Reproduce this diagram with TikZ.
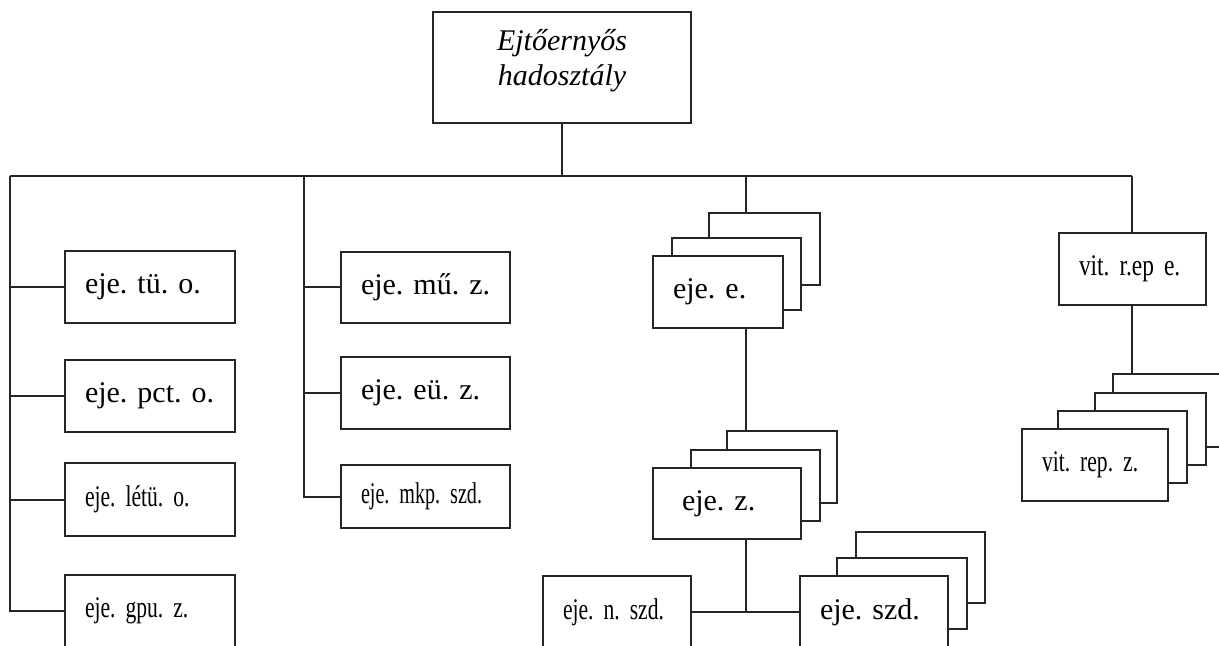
\documentclass[tikz,border=0pt]{standalone}
\usepackage{fontspec}
\setmainfont{Liberation Serif}
\newfontfamily\narrowserif[FakeStretch=0.72]{Liberation Serif}
\newfontfamily\narrowerserif[FakeStretch=0.67]{Liberation Serif}
\newfontfamily\slightnarrowserif[FakeStretch=0.78]{Liberation Serif}

\tikzset{
  unitbox/.style={draw=black!85, line width=1pt, fill=white, rectangle,
    inner xsep=10pt, inner ysep=0pt, outer sep=0pt, align=left,
    font=\fontsize{15}{18}\selectfont},
  link/.style={draw=black!85, line width=1pt},
}

% #1 name, #2 #3 top-left corner, #4 #5 bottom-right corner (grid units), #6 label
\newcommand\orgbox[6]{%
  \pgfmathsetmacro\obw{(#4-#2)*0.5-20}%
  \pgfmathsetmacro\obh{(#5-#3)*0.5}%
  \node[unitbox, anchor=north west, text width=\obw pt, minimum height=\obh pt]
    (#1) at (#2,#3) {\mbox{#6}};}

\begin{document}
\frenchspacing
\begin{tikzpicture}[x=0.5pt, y=-0.5pt]
  \useasboundingbox (0,0) rectangle (1219,646);
  \clip (0,0) rectangle (1219,646);

  % division headquarters
  \node[unitbox, anchor=north west, minimum width=129pt, minimum height=55.5pt,
        align=center, inner xsep=0pt, text width=129pt,
        font=\fontsize{15}{17.5}\selectfont\itshape]
    (hq) at (433,12) {Ejtőernyős\\hadosztály\\[-7.2pt]\mbox{}};

  \coordinate (busL) at (10,176);
  \coordinate (busR) at (1132,176);
  \coordinate (busB) at (304,176);
  \coordinate (busC) at (746,176);

  \draw[link] (hq.south) -- (hq.south |- busL);
  \draw[link] (busL) -- (busR);

  % first column: battalions
  \orgbox{tuo}{65}{251}{235}{323}{eje. tü. o.}
  \orgbox{pcto}{65}{360}{235}{432}{eje. pct. o.}
  \orgbox{letuo}{65}{463}{235}{536}{\narrowserif eje. létü. o.}
  \orgbox{gpuz}{65}{575}{235}{647}{\narrowserif eje. gpu. z.}

  \draw[link] (busL) |- (gpuz.west);
  \foreach \b in {tuo,pcto,letuo}
    \draw[link] (\b.west) -- (\b.west -| busL);

  % second column
  \orgbox{muz}{341}{252}{510}{323}{eje. mű. z.}
  \orgbox{euz}{341}{357}{510}{429}{eje. eü. z.}
  \orgbox{mkp}{341}{465}{510}{528}{\narrowerserif eje. mkp. szd.}

  \draw[link] (busB) |- (mkp.west);
  \foreach \b in {muz,euz}
    \draw[link] (\b.west) -- (\b.west -| busB);

  % third column: regiments, battalions, companies
  \orgbox{ee3}{709}{213}{820}{285}{}
  \orgbox{ee2}{672}{238}{801}{310}{}
  \orgbox{ee}{653}{256}{783}{328}{eje. e.}
  \draw[link] (busC) -- (ee3.north -| busC);

  \orgbox{ez3}{727}{431}{837}{503}{}
  \orgbox{ez2}{691}{450}{820}{521}{}
  \node[unitbox, anchor=north west, text width=45pt, minimum height=35.5pt,
        inner xsep=14.5pt] (ez) at (653,468) {\mbox{eje. z.}};
  \draw[link] (ee.south -| busC) -- (ez3.north -| busC);

  \orgbox{nszd}{543}{576}{691}{648}{\narrowserif eje. n. szd.}
  \orgbox{szd3}{856}{532}{985}{603}{}
  \orgbox{szd2}{837}{558}{967}{629}{}
  \orgbox{szd}{800}{576}{948}{648}{eje. szd.}
  \coordinate (fork) at (746,612);
  \draw[link] (ez.south -| busC) -- (fork);
  \draw[link] (nszd.east) -- (szd.west);

  % fourth column: maintenance
  \orgbox{vre}{1059}{233}{1206}{305}{\slightnarrowserif vit. r.ep e.}
  \draw[link] (busR) -- (vre.north -| busR);

  \orgbox{vrz4}{1113}{374}{1240}{447}{}
  \orgbox{vrz3}{1095}{393}{1206}{465}{}
  \orgbox{vrz2}{1058}{411}{1187}{483}{}
  \orgbox{vrz}{1022}{429}{1168}{501}{\narrowserif vit. rep. z.}
  \draw[link] (vre.south -| busR) -- (vrz4.north -| busR);
\end{tikzpicture}
\end{document}
